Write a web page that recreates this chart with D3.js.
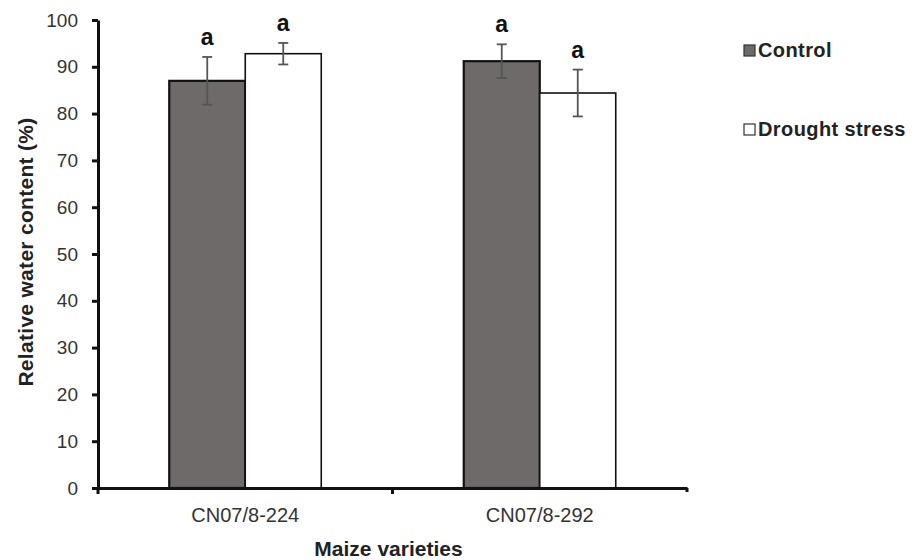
<!DOCTYPE html>
<html>
<head>
<meta charset="utf-8">
<script src="https://cdn.jsdelivr.net/npm/d3@7"></script>
<style>
  body { margin: 0; background: #fff; }
  svg { font-family: "Liberation Sans", Arial, sans-serif; }
</style>
</head>
<body>
<svg width="917" height="560"></svg>
<script>
// data
var varieties = ["CN07/8-224", "CN07/8-292"];
var seriesNames = ["Control", "Drought stress"];
var controlValues = [87.0, 91.2];
var droughtValues = [92.8, 84.4];
var controlErrors = [5.1, 3.6];
var droughtErrors = [2.3, 5.0];
var letters = [["a", "a"], ["a", "a"]];
var yTicks = [0, 10, 20, 30, 40, 50, 60, 70, 80, 90, 100];

var svg = d3.select("svg");
var margin = { top: 20, left: 98 };
var width = 589, height = 468;

var rows = [];
varieties.forEach(function(v, i) {
  rows.push({ variety: v, series: seriesNames[0], value: controlValues[i], err: controlErrors[i], letter: letters[i][0] });
  rows.push({ variety: v, series: seriesNames[1], value: droughtValues[i], err: droughtErrors[i], letter: letters[i][1] });
});

var x0 = d3.scaleBand().domain(varieties).range([0, width]);
var x1 = d3.scaleBand().domain(seriesNames).range([x0.bandwidth() / 2 - 76, x0.bandwidth() / 2 + 76]);
var y = d3.scaleLinear().domain([0, 100]).range([height, 0]);
var fill = d3.scaleOrdinal().domain(seriesNames).range(["#6e6a6a", "#ffffff"]);

var g = svg.append("g").attr("transform", "translate(" + margin.left + "," + margin.top + ")");

// bars
g.selectAll(".bar")
  .data(rows)
  .enter()
  .append("rect")
  .attr("class", "bar")
  .attr("x", function(d) { return x0(d.variety) + x1(d.series); })
  .attr("width", x1.bandwidth())
  .attr("y", function(d) { return y(d.value); })
  .attr("height", function(d) { return height - y(d.value); })
  .style("fill", function(d) { return fill(d.series); })
  .style("stroke", "#111")
  .style("stroke-width", function(d) { return d.series === seriesNames[0] ? 2.2 : 1.6; });

// error bars
var eb = g.selectAll(".err")
  .data(rows)
  .enter()
  .append("g")
  .attr("class", "err")
  .attr("transform", function(d) { return "translate(" + (x0(d.variety) + x1(d.series) + x1.bandwidth() / 2) + ",0)"; });
eb.append("line")
  .attr("y1", function(d) { return y(d.value + d.err); })
  .attr("y2", function(d) { return y(d.value - d.err); });
eb.append("line")
  .attr("x1", -5).attr("x2", 5)
  .attr("y1", function(d) { return y(d.value + d.err); })
  .attr("y2", function(d) { return y(d.value + d.err); });
eb.append("line")
  .attr("x1", -5).attr("x2", 5)
  .attr("y1", function(d) { return y(d.value - d.err); })
  .attr("y2", function(d) { return y(d.value - d.err); });
eb.selectAll("line").style("stroke", "#555").style("stroke-width", 1.8);

// significance letters
eb.append("text")
  .attr("y", function(d) { return y(d.value + d.err) - 12; })
  .attr("text-anchor", "middle")
  .style("font-size", "23px")
  .style("font-weight", "bold")
  .style("fill", "#111")
  .text(function(d) { return d.letter; });

// y axis
var yAxis = g.append("g")
  .attr("class", "y axis")
  .call(d3.axisLeft(y).tickValues(yTicks).tickSize(6).tickSizeOuter(0).tickPadding(14));
// x axis
var xAxis = g.append("g")
  .attr("class", "x axis")
  .attr("transform", "translate(0," + height + ")")
  .call(d3.axisBottom(x0).tickSize(0).tickPadding(20));

xAxis.selectAll(".tick line").remove();
// category boundary ticks
xAxis.selectAll(".sep")
  .data([0, width / 2, width])
  .enter()
  .append("line")
  .attr("x1", function(d) { return d; })
  .attr("x2", function(d) { return d; })
  .attr("y1", 0).attr("y2", function(d, i) { return i === 2 ? 4 : 6; })
  .style("stroke", "#111").style("stroke-width", 3);

g.selectAll(".axis path, .axis line").style("stroke", "#111").style("stroke-width", 3);
g.selectAll(".axis text").style("font-size", "19px").style("fill", "#333").style("font-family", "Liberation Sans, Arial, sans-serif");
xAxis.selectAll("text").style("font-size", "20px");

// axis titles
svg.append("text")
  .attr("x", margin.left + width / 2 - 4)
  .attr("y", 556)
  .attr("text-anchor", "middle")
  .style("font-size", "21px")
  .style("font-weight", "bold")
  .style("fill", "#222")
  .text("Maize varieties");

svg.append("text")
  .attr("transform", "translate(33," + (margin.top + height / 2 - 2) + ") rotate(-90)")
  .attr("text-anchor", "middle")
  .style("font-size", "21px")
  .style("font-weight", "bold")
  .style("letter-spacing", "0.3px")
  .style("fill", "#222")
  .text("Relative water content (%)");

// legend
var legend = svg.selectAll(".legend")
  .data(seriesNames)
  .enter()
  .append("g")
  .attr("class", "legend")
  .attr("transform", function(d, i) { return "translate(744," + (50 + i * 79) + ")"; });
legend.append("rect")
  .attr("x", 0).attr("y", -5)
  .attr("width", 11).attr("height", 11)
  .style("fill", function(d) { return fill(d); })
  .style("stroke", "#333").style("stroke-width", 1.2);
legend.append("text")
  .attr("x", 14).attr("y", 7)
  .style("font-size", "20px")
  .style("font-weight", "bold")
  .style("letter-spacing", "0.4px")
  .style("fill", "#222")
  .text(function(d) { return d; });
</script>
</body>
</html>
